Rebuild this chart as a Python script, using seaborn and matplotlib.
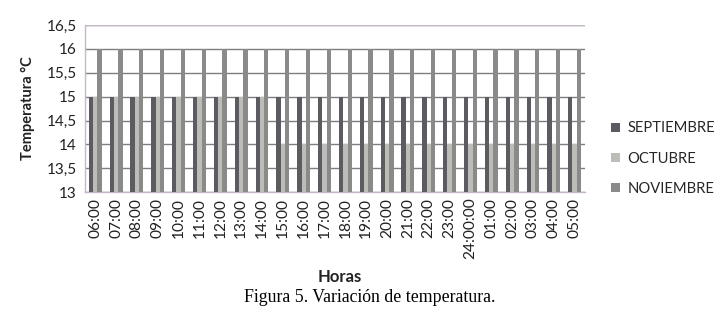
import matplotlib
matplotlib.use("Agg")
import matplotlib.pyplot as plt
import seaborn as sns
import pandas as pd

horas = ["06:00", "07:00", "08:00", "09:00", "10:00", "11:00", "12:00", "13:00",
         "14:00", "15:00", "16:00", "17:00", "18:00", "19:00", "20:00", "21:00",
         "22:00", "23:00", "24:00:00", "01:00", "02:00", "03:00", "04:00", "05:00"]
septiembre = [15] * 24
octubre = [15, 15, 15, 15, 15, 15, 15, 15, 15,
           14, 14, 14, 14, 14, 14, 14, 14, 14, 14, 14, 14, 14, 14, 14]
noviembre = [16] * 24
series = ["SEPTIEMBRE", "OCTUBRE", "NOVIEMBRE"]
colors = ["#5d5a62", "#bcbdb6", "#8b8a8a"]

rows = []
for name, vals in zip(series, [septiembre, octubre, noviembre]):
    for h, v in zip(horas, vals):
        rows.append({"Horas": h, "Temp": v, "Mes": name})
df = pd.DataFrame(rows)

sns.set_theme(style="white")
plt.rcParams["font.family"] = ["Lato", "DejaVu Sans"]

fig = plt.figure(figsize=(7.25, 3.17), dpi=100)
ax = fig.add_axes([0.117, 0.394, 0.690, 0.527])

sns.barplot(data=df, x="Horas", y="Temp", hue="Mes", order=horas,
            hue_order=series, palette=colors, width=0.62, dodge=True,
            saturation=1, ax=ax, zorder=3, errorbar=None, linewidth=0)

ax.set_ylim(13, 16.5)
ax.set_yticks([13, 13.5, 14, 14.5, 15, 15.5, 16, 16.5])
ax.set_yticklabels(["13", "13,5", "14", "14,5", "15", "15,5", "16", "16,5"],
                   fontsize=11, color="#222222")
ax.set_xlim(-0.5, len(horas) - 0.5)
ax.tick_params(axis="x", rotation=90, labelsize=11.2, colors="#222222", length=0, pad=4)
ax.tick_params(axis="y", length=0, pad=6)

ax.yaxis.grid(True, color="#7e7e7e", linewidth=1.0, zorder=0)
ax.set_axisbelow(True)
for s in ["top", "right"]:
    ax.spines[s].set_visible(False)
for s in ["left", "bottom"]:
    ax.spines[s].set_color("#c4b8c8")
    ax.spines[s].set_linewidth(1.0)
ax.axhline(16.5, color="#c4b8c8", linewidth=1.0, zorder=1)

ax.set_ylabel("Temperatura °C", fontsize=10.5, fontweight="bold", color="#222222", labelpad=8)
ax.set_xlabel("")
fig.text(0.469, 0.126, "Horas", ha="center", va="center", fontsize=12,
         fontweight="bold", color="#222222")

handles, labels = ax.get_legend_handles_labels()
ax.legend(handles, labels, loc="center left", bbox_to_anchor=(1.04, 0.2),
          frameon=False, fontsize=10.6, handlelength=0.6, handleheight=0.6,
          handletextpad=0.5, labelspacing=1.1, borderaxespad=0)

fig.text(0.51, 0.063, "Figura 5. Variación de temperatura.", ha="center", va="center",
         fontsize=12.8, family="Liberation Serif", color="black")

fig.savefig("out.png", dpi=100)
